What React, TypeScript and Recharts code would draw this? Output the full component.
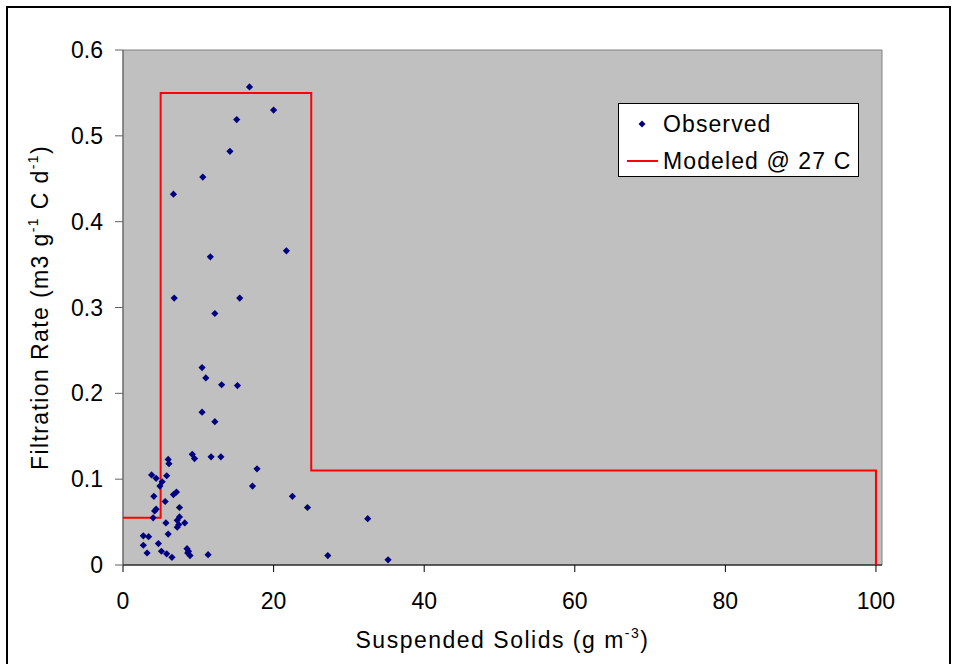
import React from "react";
import {
  CartesianGrid,
  Legend,
  ReferenceArea,
  Scatter,
  ScatterChart,
  XAxis,
  YAxis,
} from "recharts";

// observed filtration rates
const obsSolids = [
  16.8, 20.0, 15.1, 14.2, 10.6, 6.7, 21.7, 11.6, 6.8, 15.5, 12.2, 10.5, 11.0,
  13.1, 15.2, 10.5, 12.2, 9.2, 9.5, 11.7, 13.0, 6.0, 6.1, 17.8, 3.8, 4.4, 5.8,
  5.2, 4.9, 17.2, 7.1, 6.7, 4.1, 22.5, 5.6, 7.5, 24.5, 4.4, 4.2, 4.0, 32.5,
  7.5, 7.2, 8.2, 5.7, 7.2, 7.4, 6.0, 2.7, 3.4, 2.7, 4.7, 3.2, 5.1, 5.8, 6.5,
  8.5, 8.7, 8.6, 8.9, 11.3, 27.2, 35.2,
];
const obsRate = [
  0.557, 0.53, 0.519, 0.482, 0.452, 0.432, 0.366, 0.359, 0.311, 0.311, 0.293,
  0.23, 0.218, 0.21, 0.209, 0.178, 0.167, 0.129, 0.124, 0.126, 0.126, 0.123,
  0.118, 0.112, 0.105, 0.101, 0.104, 0.097, 0.092, 0.092, 0.085, 0.082,
  0.08, 0.08, 0.074, 0.067, 0.067, 0.065, 0.063, 0.055, 0.054, 0.056, 0.052,
  0.049, 0.049, 0.044, 0.047, 0.036, 0.034, 0.033, 0.023, 0.025, 0.014,
  0.016, 0.013, 0.009, 0.019, 0.016, 0.014, 0.011, 0.012, 0.011, 0.006,
];

// modeled step function @ 27 C
const modelSolids = [0, 5, 5, 25, 25, 100, 100];
const modelRate = [0.055, 0.055, 0.55, 0.55, 0.11, 0.11, 0];

const xTicks = [0, 20, 40, 60, 80, 100];
const yTicks = [0, 0.1, 0.2, 0.3, 0.4, 0.5, 0.6];

const observed = obsSolids.map((x, i) => ({ x, y: obsRate[i] }));
const modeled = modelSolids.map((x, i) => ({ x, y: modelRate[i] }));

const FONT = "'Liberation Sans', Arial, sans-serif";
const FS = 23;

function Diamond(props: any) {
  const { cx, cy } = props;
  if (cx == null || cy == null) return null;
  const r = 3.6;
  return (
    <polygon
      points={`${cx},${cy - r} ${cx + r},${cy} ${cx},${cy + r} ${cx - r},${cy}`}
      fill="#000080"
    />
  );
}

function LegendBox() {
  return (
    <div
      style={{
        width: 241,
        height: 74,
        boxSizing: "border-box",
        border: "1px solid #000",
        background: "#fff",
        fontFamily: FONT,
        fontSize: FS,
        letterSpacing: 1.1,
        color: "#000",
        position: "relative",
      }}
    >
      <svg width={40} height={72} style={{ position: "absolute", left: 0, top: 0 }}>
        <polygon points="23,16.5 26.5,20 23,23.5 19.5,20" fill="#000080" />
        <line x1={8} y1={57} x2={39} y2={57} stroke="#ff0000" strokeWidth={2} />
      </svg>
      <div style={{ position: "absolute", left: 44, top: 6, lineHeight: "28px" }}>Observed</div>
      <div style={{ position: "absolute", left: 44, top: 43, lineHeight: "28px" }}>
        Modeled @ 27 C
      </div>
    </div>
  );
}

function XLabel(props: any) {
  const { viewBox } = props;
  const cx = viewBox.x + viewBox.width / 2;
  return (
    <text
      x={cx}
      y={648}
      textAnchor="middle"
      fontFamily={FONT}
      fontSize={FS}
      letterSpacing={1.5}
      fill="#000"
    >
      Suspended Solids (g m
      <tspan fontSize={14} dy={-10}>-3</tspan>
      <tspan dy={10}>)</tspan>
    </text>
  );
}

function YLabel(props: any) {
  const { viewBox } = props;
  const cy = viewBox.y + viewBox.height / 2;
  const x = 48;
  return (
    <text
      x={x}
      y={cy}
      textAnchor="middle"
      transform={`rotate(-90, ${x}, ${cy})`}
      fontFamily={FONT}
      fontSize={FS}
      letterSpacing={1.4}
      fill="#000"
    >
      Filtration Rate (m3 g
      <tspan fontSize={14} dy={-10}>-1</tspan>
      <tspan dy={10}> C d</tspan>
      <tspan fontSize={14} dy={-10}>-1</tspan>
      <tspan dy={10}>)</tspan>
    </text>
  );
}

export default function App() {
  return (
    <div
      style={{
        position: "absolute",
        left: 0,
        top: 0,
        width: 957,
        height: 664,
        background: "#fff",
        overflow: "hidden",
      }}
    >
      <div
        style={{
          position: "absolute",
          left: 6,
          top: 6,
          width: 945,
          height: 700,
          border: "2px solid #000",
          boxSizing: "border-box",
        }}
      />
      <ScatterChart
        width={957}
        height={664}
        margin={{ top: 50, right: 75, bottom: 0, left: 0 }}
        style={{ position: "absolute", left: 0, top: 0 }}
      >
        <CartesianGrid fill="#c0c0c0" horizontal={false} vertical={false} />
        <ReferenceArea
          x1={0}
          x2={100.8}
          y1={0}
          y2={0.6}
          fill="none"
          stroke="#808080"
          strokeWidth={1}
          ifOverflow="extendDomain"
        />
        <XAxis
          type="number"
          dataKey="x"
          domain={[0, 100.8]}
          ticks={xTicks}
          allowDataOverflow
          height={99}
          tickSize={7}
          tickMargin={21}
          stroke="#000"
          tick={{ fill: "#000", fontSize: FS, fontFamily: FONT }}
          label={<XLabel />}
        />
        <YAxis
          type="number"
          dataKey="y"
          domain={[0, 0.6]}
          ticks={yTicks}
          width={123}
          tickSize={8}
          tickMargin={12}
          stroke="#606060"
          tick={{ fill: "#000", fontSize: FS, fontFamily: FONT }}
          tickFormatter={(v: number) => (v === 0 ? "0" : v.toFixed(1))}
          label={<YLabel />}
        />
        <Legend
          layout="vertical"
          verticalAlign="middle"
          align="center"
          wrapperStyle={{ position: "absolute", left: 618, top: 103, width: 241, height: 74 }}
          content={() => <LegendBox />}
        />
        <Scatter
          name="Modeled @ 27 C"
          data={modeled}
          line={{ stroke: "#ff0000", strokeWidth: 2 }}
          shape={() => null}
          isAnimationActive={false}
        />
        <Scatter
          name="Observed"
          data={observed}
          shape={<Diamond />}
          isAnimationActive={false}
        />
      </ScatterChart>
    </div>
  );
}
